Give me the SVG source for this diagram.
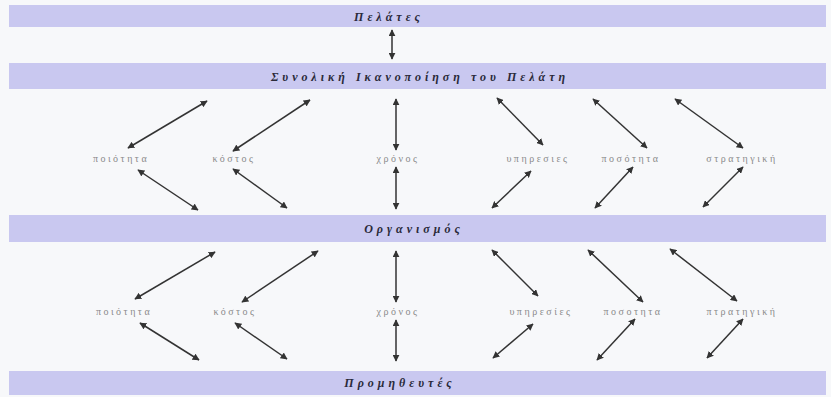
<svg xmlns="http://www.w3.org/2000/svg" width="831" height="397" viewBox="0 0 831 397">
<defs>
<marker id="ah" viewBox="0 0 10 10" refX="9" refY="5" markerWidth="7" markerHeight="7" markerUnits="userSpaceOnUse" orient="auto-start-reverse">
<path d="M0,0 L10,5 L0,10 z" fill="#333"/>
</marker>
<style>
.bar{fill:#c9c8f0}
.bt{font-family:"Liberation Serif",serif;font-style:italic;font-weight:bold;font-size:12px;letter-spacing:4px;fill:#2a2a3a;text-anchor:middle}
.lb{font-family:"Liberation Serif",serif;font-size:10px;letter-spacing:2.5px;fill:#8a8a8a;text-anchor:middle}
.ar{stroke:#333;stroke-width:1.5;fill:none;marker-start:url(#ah);marker-end:url(#ah)}
</style>
</defs>
<rect width="831" height="397" fill="#f7f8fa"/>
<g id="pelates"><rect class="bar" x="9" y="5" width="817" height="22"/><text class="bt" x="389" y="21">Πελάτες</text></g>
<g id="ikanopoiisi"><rect class="bar" x="9" y="63" width="817" height="26"/><text class="bt" x="420" y="81">Συνολική Ικανοποίηση του Πελάτη</text></g>
<g id="organismos"><rect class="bar" x="9" y="215" width="817" height="27"/><text class="bt" x="414" y="233">Οργανισμός</text></g>
<g id="promitheftes"><rect class="bar" x="9" y="371" width="817" height="24"/><text class="bt" x="400" y="387">Προμηθευτές</text></g>
<g id="r1-poiotita"><text class="lb" x="121" y="162">ποιότητα</text></g>
<g id="r1-kostos"><text class="lb" x="234" y="162">κόστος</text></g>
<g id="r1-xronos"><text class="lb" x="398" y="162">χρόνος</text></g>
<g id="r1-ypiresies"><text class="lb" x="538" y="162">υπηρεσιες</text></g>
<g id="r1-posotita"><text class="lb" x="631" y="162">ποσότητα</text></g>
<g id="r1-stratigiki"><text class="lb" x="742" y="162">στρατηγική</text></g>
<g id="r2-poiotita"><text class="lb" x="124" y="315">ποιότητα</text></g>
<g id="r2-kostos"><text class="lb" x="235" y="315">κόστος</text></g>
<g id="r2-xronos"><text class="lb" x="398" y="315">χρόνος</text></g>
<g id="r2-ypiresies"><text class="lb" x="541" y="315">υπηρεσίες</text></g>
<g id="r2-posotita"><text class="lb" x="633" y="315">ποσοτητα</text></g>
<g id="r2-stratigiki"><text class="lb" x="742" y="315">πτρατηγική</text></g>
<g id="connectors">
<line class="ar" x1="392" y1="30" x2="392" y2="59"/>
<line class="ar" x1="128" y1="148" x2="207" y2="101"/>
<line class="ar" x1="233" y1="151" x2="310" y2="100"/>
<line class="ar" x1="396" y1="99" x2="396" y2="150"/>
<line class="ar" x1="497" y1="98" x2="543" y2="145"/>
<line class="ar" x1="593" y1="99" x2="647" y2="148"/>
<line class="ar" x1="675" y1="99" x2="743" y2="148"/>
<line class="ar" x1="138" y1="170" x2="198" y2="210"/>
<line class="ar" x1="233" y1="169" x2="287" y2="208"/>
<line class="ar" x1="396" y1="167" x2="396" y2="209"/>
<line class="ar" x1="531" y1="171" x2="492" y2="208"/>
<line class="ar" x1="633" y1="167" x2="595" y2="208"/>
<line class="ar" x1="743" y1="167" x2="703" y2="207"/>
<line class="ar" x1="135" y1="299" x2="215" y2="252"/>
<line class="ar" x1="242" y1="302" x2="318" y2="251"/>
<line class="ar" x1="396" y1="251" x2="396" y2="302"/>
<line class="ar" x1="492" y1="250" x2="538" y2="296"/>
<line class="ar" x1="588" y1="250" x2="643" y2="302"/>
<line class="ar" x1="670" y1="249" x2="737" y2="301"/>
<line class="ar" x1="140" y1="323" x2="199" y2="360"/>
<line class="ar" x1="235" y1="323" x2="287" y2="359"/>
<line class="ar" x1="396" y1="320" x2="396" y2="361"/>
<line class="ar" x1="533" y1="324" x2="493" y2="358"/>
<line class="ar" x1="635" y1="319" x2="597" y2="360"/>
<line class="ar" x1="743" y1="319" x2="707" y2="358"/>
</g>
</svg>
